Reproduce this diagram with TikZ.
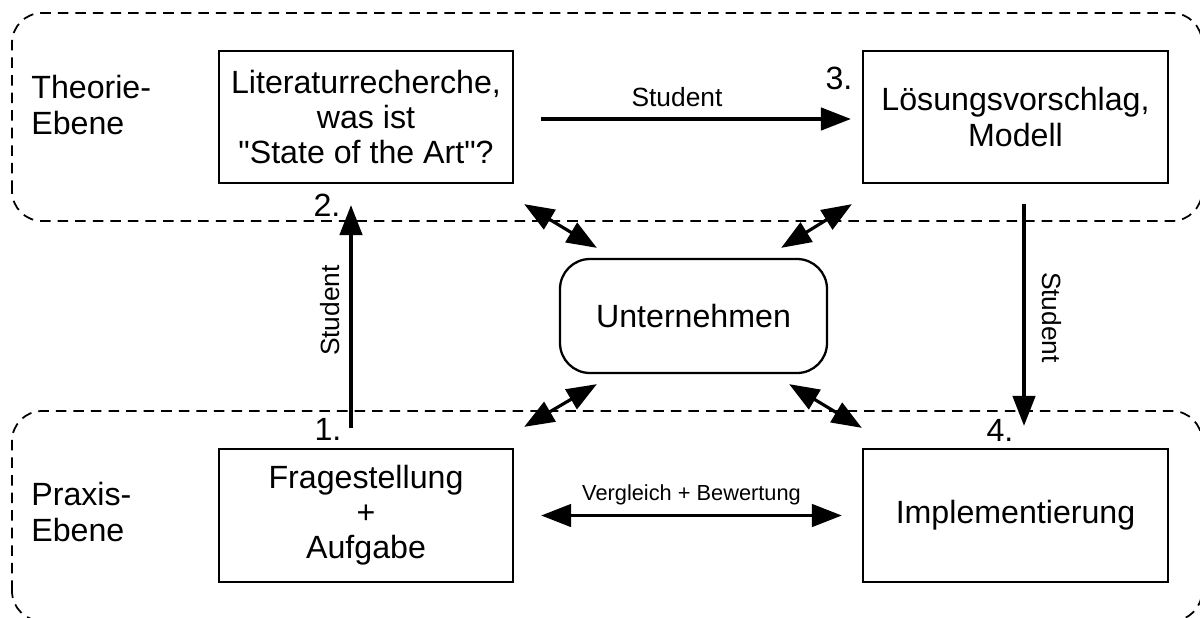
\documentclass[tikz,border=0pt]{standalone}
\usepackage{fontspec}
\setmainfont{Liberation Sans}
\usetikzlibrary{arrows.meta}
\newcommand{\bigtxt}{\fontsize{18.3}{20}\selectfont}
\newcommand{\midtxt}{\fontsize{15}{17}\selectfont}
\newcommand{\smalltxt}{\fontsize{12.4}{14}\selectfont}

\tikzset{
  box/.style={draw, line width=1.3pt, minimum width=5.88cm, minimum height=2.64cm, align=center, font=\bigtxt, inner sep=0pt},
  zone/.style={dash pattern=on 6pt off 4pt, line width=1pt, rounded corners=0.6cm},
  arr/.style={line width=1.8pt, -{Triangle[length=0.6cm,width=0.45cm]}},
  dblarr/.style={line width=1.8pt, {Triangle[length=0.6cm,width=0.45cm]}-{Triangle[length=0.6cm,width=0.45cm]}},
  num/.style={font=\bigtxt, inner sep=0pt}
}

\begin{document}
\begin{tikzpicture}
  \useasboundingbox (0,0) rectangle (24,12.34);

  % Ebenen
  \draw[zone] (0.24,7.92) rectangle (24.04,12.08);
  \draw[zone] (0.24,-0.08) rectangle (24.04,4.12);
  \node[anchor=west, align=left, font=\bigtxt, inner sep=0pt] (theorie) at (0.62,10.24) {Theorie-\\Ebene};
  \node[anchor=west, align=left, font=\bigtxt, inner sep=0pt] (praxis) at (0.62,2.1) {Praxis-\\Ebene};

  % Kaesten
  \node[box] (lit) at (7.32,10) {Literaturrecherche,\\was ist\\\textquotedbl State of the Art\textquotedbl?};
  \node[box, minimum width=6.1cm] (loes) at (20.31,10) {Lösungsvorschlag,\\Modell};
  \node[box, minimum height=2.66cm] (frage) at (7.32,2.03) {Fragestellung\\+\\Aufgabe};
  \node[box, minimum width=6.1cm, minimum height=2.66cm] (impl) at (20.31,2.03) {Implementierung};
  \node[box, rounded corners=0.6cm, minimum width=5.34cm, minimum height=2.28cm] (unt) at (13.87,6.02) {Unternehmen};

  % Nummern
  \node[num] (n1) at (6.56,3.76) {1.};
  \node[num] (n2) at (6.54,8.24) {2.};
  \node[num] (n3) at (16.78,10.78) {3.};
  \node[num] (n4) at (20,3.74) {4.};

  % Student-Pfeile
  \draw[arr] ([xshift=0.54cm,yshift=-0.04cm]lit.east) -- ([xshift=-0.22cm,yshift=-0.04cm]loes.west)
    node[midway, above=3pt, xshift=-0.38cm, font=\midtxt] {Student};
  \draw[arr] ([xshift=-0.3cm,yshift=0.4cm]frage.north) -- ([xshift=-0.3cm,yshift=-0.42cm]lit.south)
    node[midway, above=2pt, sloped, xshift=0.12cm, font=\midtxt] {Student};
  \draw[arr] ([xshift=0.17cm,yshift=-0.4cm]loes.south) -- ([xshift=0.17cm,yshift=0.44cm]impl.north)
    node[midway, above=6pt, sloped, xshift=0.05cm, font=\midtxt] {Student};

  % Vergleich
  \draw[dblarr] ([xshift=0.54cm]frage.east) -- ([xshift=-0.4cm]impl.west)
    node[midway, above=2pt, font=\smalltxt] {Vergleich + Bewertung};

  % Unternehmen
  \draw[dblarr] ([xshift=0.2cm,yshift=-0.4cm]lit.south east) -- ([xshift=0.76cm,yshift=0.2cm]unt.north west);
  \draw[dblarr] ([xshift=-0.2cm,yshift=-0.4cm]loes.south west) -- ([xshift=-0.94cm,yshift=0.2cm]unt.north east);
  \draw[dblarr] ([xshift=0.2cm,yshift=0.42cm]frage.north east) -- ([xshift=0.76cm,yshift=-0.2cm]unt.south west);
  \draw[dblarr] ([yshift=0.4cm]impl.north west) -- ([xshift=-0.78cm,yshift=-0.2cm]unt.south east);
\end{tikzpicture}
\end{document}
